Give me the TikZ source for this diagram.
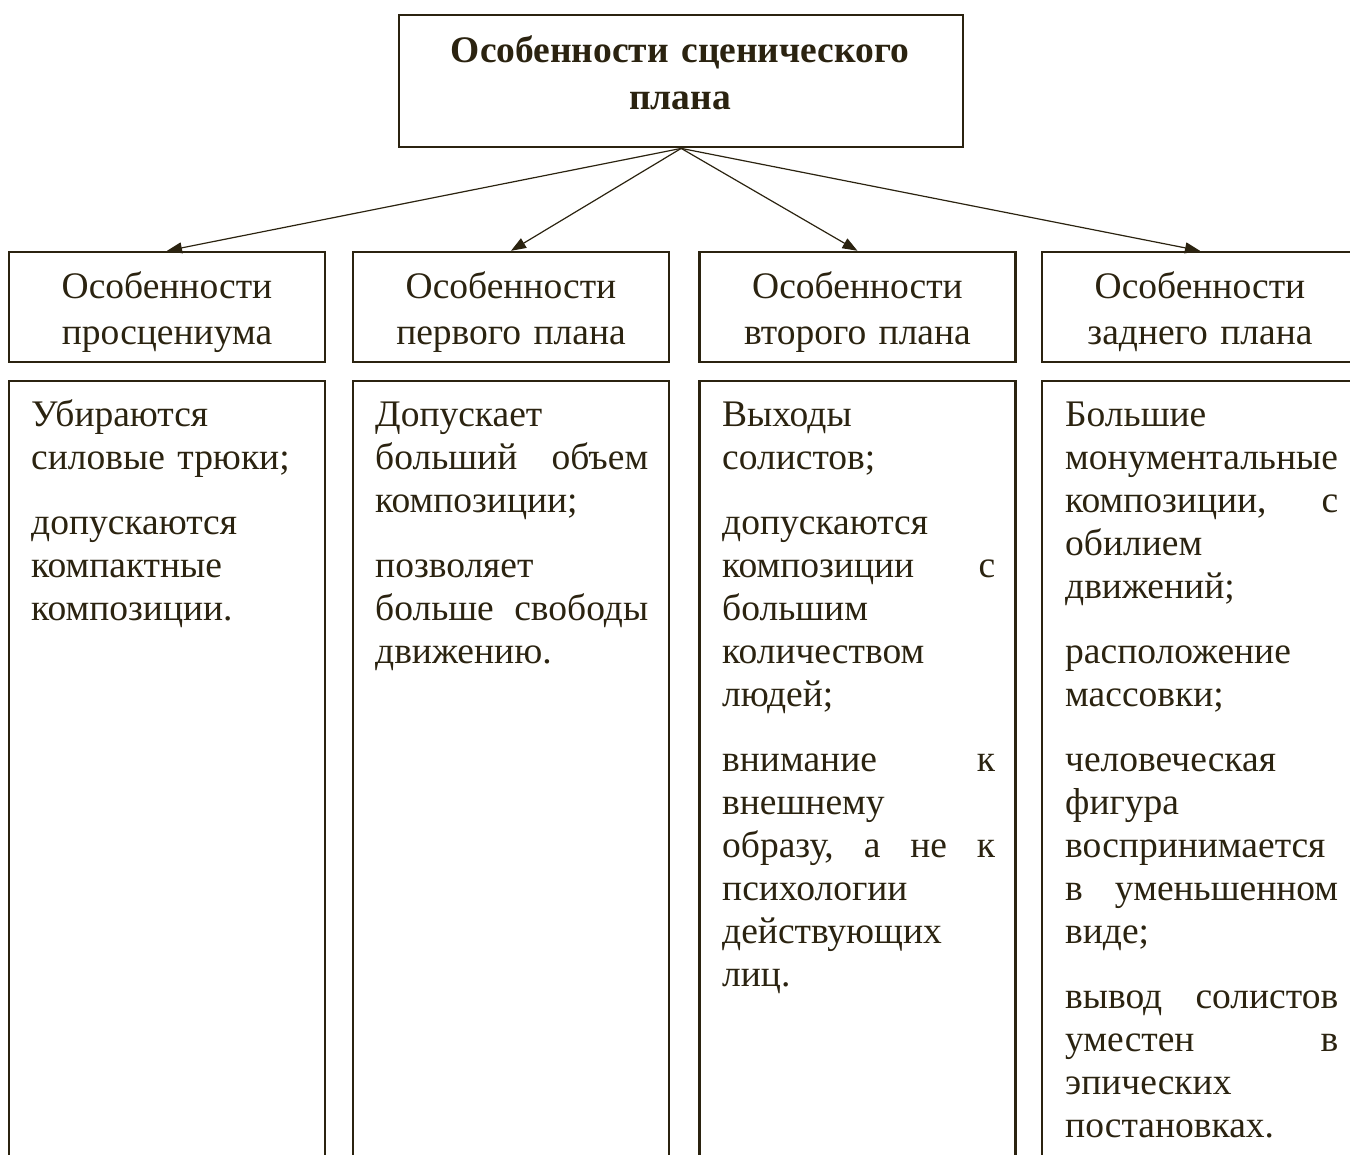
\documentclass[tikz,border=0pt]{standalone}
\usepackage{fontspec}
\setmainfont{Liberation Serif}
\usetikzlibrary{arrows.meta}
\definecolor{ink}{RGB}{43,35,16}
\begin{document}
\begin{tikzpicture}[x=1pt,y=-1pt,
  box/.style={draw=ink, line width=2.4pt, inner sep=0pt, minimum width=316pt},
  headbox/.style={box, minimum height=110pt},
  bodybox/.style={box, minimum height=820pt, anchor=north},
  arr/.style={draw=ink, line width=1.2pt, -{Triangle[length=15pt,width=11pt]}},
  titletext/.style={text=ink, inner sep=0pt, text width=560pt, align=center, anchor=base,
    font=\fontsize{37.5}{47}\selectfont\bfseries},
  headtext/.style={text=ink, inner sep=0pt, text width=310pt, align=center, anchor=base,
    font=\fontsize{37.5}{46}\selectfont},
  bodytext/.style={text=ink, inner sep=0pt, text width=273pt, align=left, anchor=base west,
    font=\fontsize{37.5}{43}\selectfont}
]
\useasboundingbox (0,0) rectangle (1350,1155);
\clip (0,0) rectangle (1350,1155);

% title
\node[box, minimum width=564pt, minimum height=132pt, anchor=north west] (title) at (398,14) {};
\node[titletext] (titlet) at (680,63) {Особенности сценического\\плана};

% header boxes
\node[headbox] (h1) at (167,307) {};
\node[headbox] (h2) at (511,307) {};
\node[headbox] (h3) at (857.5,307) {};
\node[headbox] (h4) at (1200,307) {};

\node[headtext] (t1) at (167,299) {Особенности\\просцениума};
\node[headtext] (t2) at (511,299) {Особенности\\первого плана};
\node[headtext] (t3) at (857.5,299) {Особенности\\второго плана};
\node[headtext] (t4) at (1200,299) {Особенности\\заднего плана};

% arrows
\draw[arr] (title.south) -- (h1.north);
\draw[arr] (title.south) -- (h2.north);
\draw[arr] (title.south) -- (h3.north);
\draw[arr] (title.south) -- (h4.north);

% body boxes
\node[bodybox] (b1) at (167,380) {};
\node[bodybox] (b2) at (511,380) {};
\node[bodybox] (b3) at (857.5,380) {};
\node[bodybox] (b4) at (1200,380) {};

\node[bodytext] (c1) at (31,427) {Убираются\\
силовые трюки;\\[22pt]
допускаются\\
компактные\\
композиции.};

\node[bodytext] (c2) at (375,427) {Допускает\\
больший\hfill объем\\
композиции;\\[22pt]
позволяет\\
больше\hfill свободы\\
движению.};

\node[bodytext] (c3) at (722,427) {Выходы\\
солистов;\\[22pt]
допускаются\\
композиции\hfill с\\
большим\\
количеством\\
людей;\\[22pt]
внимание\hfill к\\
внешнему\\
образу,\hfill а\hfill не\hfill к\\
психологии\\
действующих\\
лиц.};

\node[bodytext] (c4) at (1065,427) {Большие\\
монументальные\\
композиции,\hfill с\\
обилием\\
движений;\\[22pt]
расположение\\
массовки;\\[22pt]
человеческая\\
фигура\\
воспринимается\\
в\hfill уменьшенном\\
виде;\\[22pt]
вывод\hfill солистов\\
уместен\hfill в\\
эпических\\
постановках.};
\end{tikzpicture}
\end{document}
